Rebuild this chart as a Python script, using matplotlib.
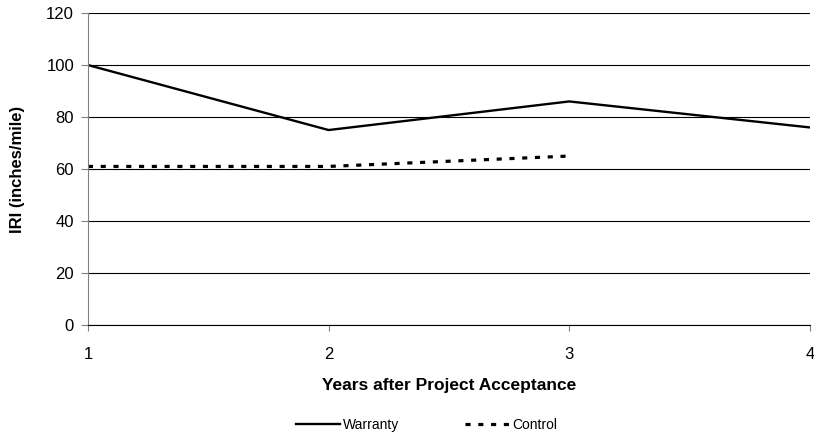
import matplotlib
matplotlib.use('Agg')
import matplotlib.pyplot as plt

plt.rcParams['font.family'] = ['Liberation Sans', 'DejaVu Sans']

years = [1, 2, 3, 4]
warranty = [100, 75, 86, 76]
control_years = [1, 2, 3]
control = [61, 61, 65]
y_ticks = [0, 20, 40, 60, 80, 100, 120]

fig = plt.figure(figsize=(8.14, 4.34), dpi=100)
ax = fig.add_axes([0.108, 0.251, 0.887, 0.719])

ax.plot(years, warranty, color='black', lw=1.7, label='Warranty', solid_joinstyle='miter')
ax.plot(control_years, control, color='black', lw=2.3, linestyle=(0, (1.6, 2.4)),
        dash_capstyle='butt', label='Control')

ax.set_xlim(1, 4)
ax.set_ylim(0, 120)
ax.set_xticks(years)
ax.set_yticks(y_ticks)
ax.yaxis.grid(True, color='black', lw=0.8)
ax.set_axisbelow(True)

for s in ['top', 'right']:
    ax.spines[s].set_visible(False)
ax.spines['left'].set_color('#808080')
ax.spines['bottom'].set_color('black')
ax.tick_params(axis='y', colors='black', length=5, labelsize=12, pad=5)
ax.tick_params(axis='x', length=4, labelsize=12, pad=12)
ax.tick_params(axis='y', color='#808080')
ax.tick_params(axis='x', color='#808080')

ax.set_xlabel('Years after Project Acceptance', fontsize=12.5, fontweight='bold', labelpad=11)
ax.set_ylabel('IRI (inches/mile)', fontsize=12, fontweight='bold', labelpad=15)

fig.legend(loc='lower center', bbox_to_anchor=(0.524, -0.025), ncol=2, frameon=False,
           fontsize=10, handlelength=3.2, handletextpad=0.15, columnspacing=4.8)

fig.savefig('out.png', dpi=100)
